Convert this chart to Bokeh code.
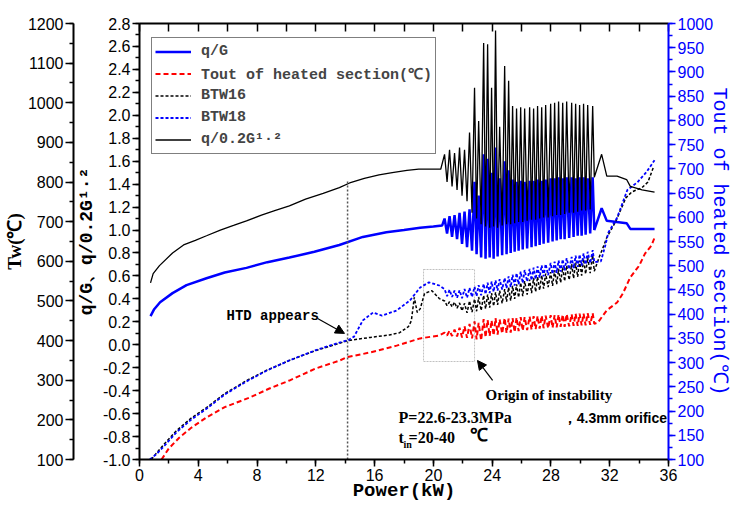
from bokeh.plotting import figure
from bokeh.models import (Range1d, LinearAxis, SingleIntervalTicker, FixedTicker, Legend, LegendItem,
                          BoxAnnotation, Arrow, NormalHead, Label, PrintfTickFormatter)
from bokeh.embed import file_html
from bokeh.resources import INLINE

# ---------------- data ----------------
# q/G, smooth part (primary axis)
qg_P = [0.75, 1.0, 1.4, 2.25, 3.2, 4.56, 5.8, 7.28, 8.7, 10.2, 11.9, 13.6, 15.2, 16.8, 18.0, 19.1, 20.0, 20.6]
qg_v = [0.25, 0.31, 0.37, 0.45, 0.52, 0.58, 0.63, 0.67, 0.72, 0.76, 0.81, 0.87, 0.94, 0.98, 1.00, 1.02, 1.03, 1.04]
# q/0.2G^1.2, smooth part (primary axis)
qg12_P = [0.75, 0.93, 1.36, 2.25, 3.0, 3.8, 4.56, 5.5, 6.4, 7.28, 8.3, 9.2, 10.2, 11.3, 12.5, 13.6, 14.3, 15.3, 16.3, 17.2, 18.2, 19.0, 19.8, 20.5]
qg12_v = [0.54, 0.62, 0.69, 0.80, 0.87, 0.91, 0.95, 1.00, 1.04, 1.08, 1.13, 1.17, 1.21, 1.27, 1.32, 1.37, 1.41, 1.45, 1.48, 1.50, 1.52, 1.53, 1.53, 1.53]
# Tout of heated section, smooth part (right axis, deg C)
tout_P = [1.5, 2.0, 2.7, 3.5, 4.56, 5.8, 7.5, 8.8, 10.2, 12.0, 13.6, 14.1, 15.7, 17.5, 19.1, 20.4]
tout_T = [100, 123, 145, 165, 187, 208, 228, 246, 263, 288, 304, 311, 321, 335, 350, 356]
# BTW16 wall temperature, smooth part (Tw axis)
btw16_P = [0.8, 1.2, 1.7, 2.5, 3.5, 4.56, 5.8, 7.28, 8.7, 10.2, 12.0, 13.6, 14.2, 15.7, 17.0, 17.7, 18.3, 18.5, 18.7, 18.9, 19.1, 19.4, 19.9, 20.4]
btw16_T = [100, 118, 140, 172, 204, 231, 266, 299, 326, 350, 375, 393, 400, 408, 414, 420, 435, 450, 509, 471, 480, 519, 526, 506]
# BTW18 wall temperature, smooth part (Tw axis)
btw18_P = [0.7, 1.2, 1.7, 2.5, 3.5, 4.56, 5.8, 7.28, 8.7, 10.2, 12.0, 13.6, 14.2, 14.6, 15.2, 15.9, 16.5, 17.5, 18.4, 19.1, 19.7, 20.4]
btw18_T = [100, 115, 135, 168, 200, 228, 264, 297, 325, 350, 376, 395, 401, 410, 451, 471, 463, 476, 501, 534, 547, 539]

# oscillation region: powers of peaks and troughs
osc_peak_P = [20.76, 21.10, 21.44, 21.78, 22.12, 22.46, 22.80, 23.08, 23.42, 23.69, 23.96, 24.23, 24.51, 24.85, 25.12,
              25.39, 25.66, 25.94, 26.21, 26.55, 26.82, 27.09, 27.37, 27.64, 27.98, 28.25, 28.52, 28.80, 29.07, 29.41,
              29.68, 29.95, 30.22, 30.50, 30.84]
osc_trough_P = [20.93, 21.27, 21.61, 21.95, 22.29, 22.63, 22.94, 23.25, 23.55, 23.83, 24.10, 24.37, 24.68, 24.98, 25.26,
                25.53, 25.80, 26.08, 26.38, 26.68, 26.96, 27.23, 27.50, 27.81, 28.11, 28.39, 28.66, 28.93, 29.24, 29.54,
                29.82, 30.09, 30.36, 30.67, 30.95]
qg12_peak = [1.66, 1.70, 1.67, 1.72, 1.70, 1.85, 2.24, 1.95, 2.63, 2.62, 2.24, 2.74, 1.90, 2.43, 2.30,
             2.08, 2.06, 2.07, 2.06, 2.07, 2.06, 2.08, 2.07, 2.09, 2.10, 2.11, 2.12, 2.11, 2.12, 2.11,
             2.10, 2.09, 2.10, 2.09, 2.08]
qg12_trough = [1.42, 1.38, 1.35, 1.30, 1.25, 1.15, 1.10, 1.05, 1.03, 1.02, 1.03, 1.02, 1.04, 1.05, 1.05,
               1.06, 1.07, 1.07, 1.08, 1.09, 1.09, 1.10, 1.11, 1.11, 1.12, 1.13, 1.13, 1.14, 1.15, 1.15,
               1.16, 1.17, 1.17, 1.18, 1.46]
qg_peak = [1.10, 1.12, 1.13, 1.15, 1.16, 1.18, 1.42, 1.30, 1.66, 1.62, 1.50, 1.72, 1.45, 1.60, 1.52,
           1.44, 1.42, 1.43, 1.42, 1.43, 1.43, 1.44, 1.43, 1.44, 1.45, 1.45, 1.46, 1.45, 1.46, 1.46,
           1.45, 1.46, 1.46, 1.45, 1.46]
qg_trough = [0.97, 0.94, 0.92, 0.88, 0.85, 0.82, 0.79, 0.76, 0.75, 0.76, 0.75, 0.77, 0.78, 0.79, 0.80,
             0.81, 0.82, 0.83, 0.84, 0.85, 0.86, 0.87, 0.88, 0.89, 0.90, 0.91, 0.92, 0.92, 0.93, 0.94,
             0.95, 0.95, 0.96, 0.97, 1.00]
tout_peak = [362, 366, 368, 372, 375, 380, 385, 382, 390, 388, 387, 392, 389, 392, 391,
             392, 393, 394, 394, 395, 396, 396, 397, 397, 398, 398, 399, 399, 400, 400,
             401, 401, 401, 402, 402]
tout_trough = [356, 355, 354, 352, 351, 350, 348, 346, 352, 355, 356, 358, 360, 361, 362,
               363, 365, 366, 367, 368, 369, 370, 371, 371, 372, 373, 374, 374, 375, 376,
               376, 377, 377, 378, 380]
btw16_peak = [500, 498, 497, 495, 494, 500, 505, 510, 514, 516, 520, 522, 526, 530, 534,
              538, 542, 546, 550, 554, 558, 561, 565, 569, 573, 577, 581, 585, 589, 593,
              597, 602, 606, 610, 615]
btw16_trough = [488, 485, 482, 475, 470, 472, 474, 476, 480, 483, 487, 490, 494, 498, 501,
                505, 509, 512, 516, 520, 523, 527, 531, 535, 538, 542, 546, 550, 553, 557,
                561, 564, 568, 570, 575]
btw18_peak = [530, 528, 526, 527, 530, 533, 536, 540, 543, 546, 549, 552, 555, 558, 562,
              566, 570, 574, 578, 581, 584, 587, 590, 593, 596, 599, 602, 605, 608, 611,
              614, 617, 620, 624, 628]
btw18_trough = [512, 510, 508, 507, 508, 510, 512, 514, 517, 520, 523, 526, 529, 532, 535,
                539, 542, 545, 549, 552, 555, 559, 562, 565, 568, 571, 574, 577, 580, 583,
                586, 589, 592, 595, 598]

# after the oscillation stops
qg12_post_P = [31.45, 31.8, 32.5, 33.15, 33.4, 34.2, 35.05]
qg12_post_v = [1.66, 1.47, 1.47, 1.44, 1.38, 1.35, 1.33]
qg_post_P = [31.45, 31.8, 33.15, 33.4, 35.05]
qg_post_v = [1.19, 1.08, 1.06, 1.01, 1.01]
tout_post_P = [31.2, 31.8, 32.5, 32.9, 33.2, 33.4, 34.0, 34.4, 34.85, 35.05]
tout_post_T = [383, 408, 424, 443, 463, 476, 500, 525, 542, 558]
btw16_post_P = [31.3, 31.6, 31.8, 32.4, 33.1, 33.5, 34.2, 34.6, 35.0]
btw16_post_T = [612, 640, 660, 700, 760, 775, 786, 800, 840]
btw18_post_P = [31.4, 31.7, 31.9, 32.5, 33.2, 33.9, 34.5, 35.05]
btw18_post_T = [600, 640, 672, 710, 780, 800, 825, 855]

# annotation anchors (data units: kW, primary axis)
htd_power = 14.16
htd_line_top = 1.44
box_P = (19.33, 22.8)
box_v = (-0.146, 0.656)


def build(pre_x, pre_y, peaks, troughs, post_x, post_y):
    xs, ys = list(pre_x), list(pre_y)
    for pp, pv, tp, tv in zip(osc_peak_P, peaks, osc_trough_P, troughs):
        xs += [pp, tp]
        ys += [pv, tv]
    return xs + list(post_x), ys + list(post_y)


BLUE = "#0000ff"
RED = "#ff0000"

p = figure(x_range=Range1d(0, 36), y_range=Range1d(-1.0, 2.80001),
           frame_width=529, frame_height=436, output_backend="svg", toolbar_location=None,
           min_border_left=0, min_border_right=0, min_border_top=23, min_border_bottom=0,
           x_axis_label="Power(kW)", y_axis_label="q/G、q/0.2G¹·²")
p.extra_y_ranges = {"tw": Range1d(100, 1200.001), "tout": Range1d(100, 1000.001)}
p.xgrid.grid_line_color = None
p.ygrid.grid_line_color = None
p.outline_line_color = None
p.background_fill_color = "white"
p.border_fill_color = "white"


def style(ax, color="black"):
    ax.axis_line_color = color
    ax.axis_line_width = 2
    ax.major_tick_line_color = color
    ax.minor_tick_line_color = color
    ax.major_tick_line_width = 1.5
    ax.minor_tick_line_width = 1.5
    ax.major_tick_out = 7
    ax.major_tick_in = 0
    ax.minor_tick_out = 4
    ax.minor_tick_in = 0
    ax.major_label_text_font = "Liberation Sans"
    ax.major_label_text_font_size = "16px"
    ax.major_label_text_color = color
    ax.major_label_standoff = 2
    ax.axis_label_text_color = color
    ax.axis_label_text_font_style = "normal"


# bottom axis
xa = p.xaxis[0]
xa.ticker = SingleIntervalTicker(interval=4, num_minor_ticks=2)
style(xa)
xa.axis_label_text_font = "Liberation Mono"
xa.axis_label_text_font_size = "19px"
xa.axis_label_text_font_style = "bold"
xa.axis_label_standoff = -4

# primary left axis
ya = p.yaxis[0]
ya.ticker = SingleIntervalTicker(interval=0.2, num_minor_ticks=2)
ya.formatter = PrintfTickFormatter(format="%.1f")
style(ya)
ya.axis_label_text_font = "Liberation Mono"
ya.axis_label_text_font_size = "18px"
ya.axis_label_text_font_style = "bold"
ya.axis_label_standoff = 3

# outer left Tw axis
tw_axis = LinearAxis(y_range_name="tw", axis_label="Tw(℃)",
                     ticker=SingleIntervalTicker(interval=100, num_minor_ticks=2))
style(tw_axis)
tw_axis.major_tick_out = 8
tw_axis.axis_label_text_font = "Liberation Serif"
tw_axis.axis_label_text_font_size = "19px"
tw_axis.axis_label_text_font_style = "bold"
tw_axis.axis_label_standoff = 0
p.add_layout(tw_axis, "left")

# right Tout axis
tout_axis = LinearAxis(y_range_name="tout", axis_label="Tout of heated section(℃)",
                       ticker=SingleIntervalTicker(interval=50, num_minor_ticks=2))
style(tout_axis, BLUE)
tout_axis.axis_label_text_font = "Liberation Mono"
tout_axis.axis_label_text_font_size = "20px"
tout_axis.axis_label_standoff = -8
p.add_layout(tout_axis, "right")

# top border with inward ticks (every 2 kW, no labels)
top_axis = LinearAxis(ticker=FixedTicker(ticks=[], minor_ticks=list(range(0, 37, 2))))
top_axis.axis_line_width = 2
top_axis.minor_tick_in = 8
top_axis.minor_tick_out = 0
top_axis.minor_tick_line_width = 1.5
top_axis.minor_tick_line_color = "black"
top_axis.major_label_standoff = 0
p.add_layout(top_axis, "above")

# ---------------- series ----------------
x, y = build(qg_P, qg_v, qg_peak, qg_trough, qg_post_P, qg_post_v)
r_qg = p.line(x, y, line_color=BLUE, line_width=2.5)

x, y = build(tout_P, tout_T, tout_peak, tout_trough, tout_post_P, tout_post_T)
r_tout = p.line(x, y, y_range_name="tout", line_color=RED, line_width=2, line_dash="5 3")

x, y = build(btw16_P, btw16_T, btw16_peak, btw16_trough, btw16_post_P, btw16_post_T)
r_b16 = p.line(x, y, y_range_name="tw", line_color="black", line_width=1.5, line_dash="3 2")

x, y = build(btw18_P, btw18_T, btw18_peak, btw18_trough, btw18_post_P, btw18_post_T)
r_b18 = p.line(x, y, y_range_name="tw", line_color=BLUE, line_width=1.8, line_dash="3 2")

x, y = build(qg12_P, qg12_v, qg12_peak, qg12_trough, qg12_post_P, qg12_post_v)
r_qg12 = p.line(x, y, line_color="black", line_width=1.3)

# ---------------- annotations ----------------
p.segment(x0=[htd_power], y0=[-1.0], x1=[htd_power], y1=[htd_line_top],
          line_color="#555555", line_width=1.5, line_dash="2 2")
p.add_layout(BoxAnnotation(left=box_P[0], right=box_P[1], bottom=box_v[0], top=box_v[1],
                           fill_alpha=0, line_color="#333333", line_width=1, line_dash="2 1"))
p.add_layout(Arrow(end=NormalHead(size=9, fill_color="black", line_color="black"),
                   x_start=12.12, y_start=0.229, x_end=13.95, y_end=0.099,
                   line_color="black", line_width=1.2))
p.add_layout(Arrow(end=NormalHead(size=9, fill_color="black", line_color="black"),
                   x_start=24.03, y_start=-0.311, x_end=23.0, y_end=-0.137,
                   line_color="black", line_width=1.2))


def label(xv, yv, text, font, size, style_="normal", align="left"):
    p.add_layout(Label(x=xv, y=yv, text=text, text_font=font, text_font_size=size,
                       text_font_style=style_, text_baseline="middle", text_align=align,
                       text_color="black"))


label(5.92, 0.255, "HTD appears", "Liberation Mono", "14px", "bold")
label(23.55, -0.442, "Origin of instability", "Liberation Serif", "15px", "bold")
label(17.63, -0.634, "P=22.6-23.3MPa", "Liberation Serif", "16px", "bold")
label(35.9, -0.634, "，4.3mm orifice", "Liberation Sans", "14px", "bold", "right")
label(17.63, -0.808, "t", "Liberation Serif", "16px", "bold")
label(17.97, -0.87, "in", "Liberation Serif", "10px", "bold")
label(18.31, -0.808, "=20-40", "Liberation Serif", "16px", "bold")
label(22.46, -0.79, "℃", "Liberation Sans", "18px", "bold")

# ---------------- legend ----------------
legend = Legend(items=[
    LegendItem(label="q/G", renderers=[r_qg]),
    LegendItem(label="Tout of heated section(℃)", renderers=[r_tout]),
    LegendItem(label="BTW16", renderers=[r_b16]),
    LegendItem(label="BTW18", renderers=[r_b18]),
    LegendItem(label="q/0.2G¹·²", renderers=[r_qg12]),
], location=(12, 305))
legend.label_text_font = "Liberation Mono"
legend.label_text_font_size = "15px"
legend.label_text_font_style = "bold"
legend.glyph_width = 36
legend.glyph_height = 21
legend.label_height = 21
legend.spacing = 1
legend.padding = 3
legend.label_standoff = 10
legend.border_line_color = "black"
legend.border_line_width = 1
legend.background_fill_alpha = 1
legend.margin = 0
p.add_layout(legend)

open("out.html", "w").write(file_html(p, INLINE))
